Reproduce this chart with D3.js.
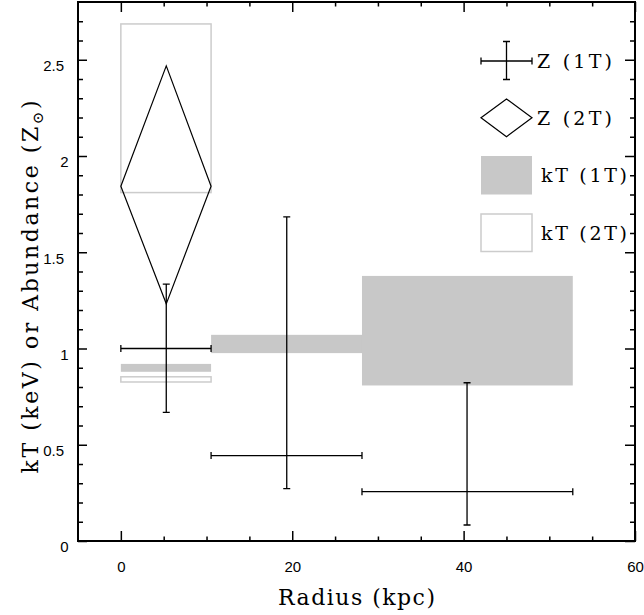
<!DOCTYPE html>
<html>
<head>
<meta charset="utf-8">
<script src="https://cdn.jsdelivr.net/npm/d3@7"></script>
<style>
  body { margin: 0; background: #fff; }
</style>
</head>
<body>
<div id="chart"></div>
<script>
// radial bins (kpc)
const binLo = [0, 10.53, 28.14];
const binHi = [10.53, 28.14, 52.74];
const binMid = [5.3, 19.36, 40.4];

// single temperature fit: abundance
const z1T = [1.0, 0.444, 0.256];
const z1TLo = [0.668, 0.272, 0.083];
const z1THi = [1.334, 1.684, 0.822];

// single temperature fit: kT range
const kT1TLo = [0.879, 0.976, 0.808];
const kT1THi = [0.920, 1.071, 1.377];

// two temperature fit (inner bin only)
const z2T = [1.843];
const z2TLo = [1.232];
const z2THi = [2.468];
const kT2TLo = [1.81, 0.826];
const kT2THi = [2.686, 0.853];

const xMajor = [0, 20, 40, 60];
const xMinor = [5, 10, 15, 25, 30, 35, 45, 50, 55];
const yMajor = [0, 0.5, 1, 1.5, 2, 2.5];
const yMinor = [0.1, 0.2, 0.3, 0.4, 0.6, 0.7, 0.8, 0.9, 1.1, 1.2, 1.3, 1.4, 1.6, 1.7, 1.8, 1.9, 2.1, 2.2, 2.3, 2.4, 2.6, 2.7];
const legendLabels = ['Z (1T)', 'Z (2T)', 'kT (1T)', 'kT (2T)'];

const width = 644, height = 615;
const margin = {top: 2, right: 9, bottom: 74, left: 78};
const grey = '#c8c8c8';
const serif = '"DejaVu Serif", serif';
const sans = '"Liberation Sans", Arial, sans-serif';

const svg = d3.select('#chart').append('svg')
  .attr('width', width)
  .attr('height', height);

const x = d3.scaleLinear().domain([-5, 60]).range([margin.left, width - margin.right]);
const y = d3.scaleLinear().domain([0, 2.8]).range([height - margin.bottom, margin.top]);

// kT (1T) filled boxes
svg.append('g').selectAll('rect')
  .data(d3.range(binLo.length))
  .join('rect')
    .attr('x', i => x(binLo[i]))
    .attr('width', i => x(binHi[i]) - x(binLo[i]))
    .attr('y', i => y(kT1THi[i]))
    .attr('height', i => y(kT1TLo[i]) - y(kT1THi[i]))
    .attr('fill', grey);

// kT (2T) open boxes
svg.append('g').selectAll('rect')
  .data(d3.range(kT2TLo.length))
  .join('rect')
    .attr('x', x(binLo[0]))
    .attr('width', x(binHi[0]) - x(binLo[0]))
    .attr('y', i => y(kT2THi[i]))
    .attr('height', i => y(kT2TLo[i]) - y(kT2THi[i]))
    .attr('fill', 'none')
    .attr('stroke', '#cccccc')
    .attr('stroke-width', 1.5);

// Z (2T) diamond
svg.append('g').selectAll('path')
  .data(d3.range(z2T.length))
  .join('path')
    .attr('d', i => d3.line()([
      [x(binLo[i]), y(z2T[i])],
      [x(binMid[i]), y(z2THi[i])],
      [x(binHi[i]), y(z2T[i])],
      [x(binMid[i]), y(z2TLo[i])]
    ]) + 'Z')
    .attr('fill', 'none')
    .attr('stroke', '#000')
    .attr('stroke-width', 1.2);

// Z (1T) error crosses
const cap = 3.5;
const cross = svg.append('g')
  .attr('stroke', '#000')
  .attr('stroke-width', 1.3)
  .attr('fill', 'none');
cross.selectAll('path')
  .data(d3.range(z1T.length))
  .join('path')
    .attr('d', i => {
      const x0 = x(binLo[i]), x1 = x(binHi[i]), xm = x(binMid[i]);
      const yc = y(z1T[i]), y0 = y(z1TLo[i]), y1 = y(z1THi[i]);
      return `M${x0},${yc}H${x1}M${x0},${yc - cap}V${yc + cap}M${x1},${yc - cap}V${yc + cap}` +
        `M${xm},${y0}V${y1}M${xm - cap},${y0}H${xm + cap}M${xm - cap},${y1}H${xm + cap}`;
    });

// axes: ticks on all four sides
const ax = svg.append('g');

ax.append('g')
  .attr('transform', `translate(0,${y(0)})`)
  .call(d3.axisBottom(x).tickValues(xMajor).tickSize(-10).tickPadding(20).tickFormat(d3.format('d')));
ax.append('g')
  .attr('transform', `translate(0,${y(0)})`)
  .call(d3.axisBottom(x).tickValues(xMinor).tickSize(-4.5).tickFormat(''));
ax.append('g')
  .attr('transform', `translate(0,${y(2.8)})`)
  .call(d3.axisTop(x).tickValues(xMajor).tickSize(-10).tickFormat(''));
ax.append('g')
  .attr('transform', `translate(0,${y(2.8)})`)
  .call(d3.axisTop(x).tickValues(xMinor).tickSize(-4.5).tickFormat(''));

ax.append('g')
  .attr('transform', `translate(${x(-5)},0)`)
  .call(d3.axisLeft(y).tickValues(yMajor).tickSize(-9).tickPadding(10).tickFormat(d => String(d)))
  .call(g => g.selectAll('text')
    .attr('dy', '0.72em')
    .attr('x', d => String(d).includes('.') ? -14 : -9.5));
ax.append('g')
  .attr('transform', `translate(${x(-5)},0)`)
  .call(d3.axisLeft(y).tickValues(yMinor).tickSize(-5).tickFormat(''));
ax.append('g')
  .attr('transform', `translate(${x(60)},0)`)
  .call(d3.axisRight(y).tickValues(yMajor).tickSize(-10).tickFormat(''));
ax.append('g')
  .attr('transform', `translate(${x(60)},0)`)
  .call(d3.axisRight(y).tickValues(yMinor).tickSize(-5).tickFormat(''));

ax.selectAll('.domain').remove();
ax.selectAll('g').attr('font-family', sans).attr('font-size', 15);
ax.selectAll('.tick line').attr('stroke', '#000').attr('stroke-width', 1.5);
ax.selectAll('.tick text').attr('fill', '#000');

// frame
svg.append('rect')
  .attr('x', x(-5))
  .attr('y', y(2.8))
  .attr('width', x(60) - x(-5))
  .attr('height', y(0) - y(2.8))
  .attr('fill', 'none')
  .attr('stroke', '#000')
  .attr('stroke-width', 2);

// axis titles
svg.append('text')
  .attr('x', (x(-5) + x(60)) / 2)
  .attr('y', 605)
  .attr('text-anchor', 'middle')
  .attr('font-family', serif)
  .attr('font-size', 22)
  .attr('textLength', 157)
  .attr('lengthAdjust', 'spacing')
  .text('Radius (kpc)');

const yt = svg.append('text')
  .attr('transform', 'translate(38,287) rotate(-90)')
  .attr('text-anchor', 'middle')
  .attr('font-family', serif)
  .attr('font-size', 22)
  .attr('textLength', 373)
  .attr('lengthAdjust', 'spacing');
yt.append('tspan').text('kT (keV) or Abundance (Z');
yt.append('tspan').attr('font-size', 15).attr('dy', 5).text('\u2299');
yt.append('tspan').attr('dy', -5).text(')');

// legend
const lg = svg.append('g');
const lx0 = 481, lx1 = 532, lxm = 506.5;
const rowY = [61, 117.7, 175, 233];

lg.append('path')
  .attr('d', `M${lx0},${rowY[0]}H${lx1}M${lx0},${rowY[0] - cap}V${rowY[0] + cap}M${lx1},${rowY[0] - cap}V${rowY[0] + cap}` +
    `M${lxm},${rowY[0] - 19.5}V${rowY[0] + 18.5}M${lxm - cap},${rowY[0] - 19.5}H${lxm + cap}M${lxm - cap},${rowY[0] + 18.5}H${lxm + cap}`)
  .attr('fill', 'none')
  .attr('stroke', '#000')
  .attr('stroke-width', 1.3);

lg.append('path')
  .attr('d', `M${lx0},${rowY[1]}L${lxm},${rowY[1] - 18.7}L${lx1},${rowY[1]}L${lxm},${rowY[1] + 19}Z`)
  .attr('fill', 'none')
  .attr('stroke', '#000')
  .attr('stroke-width', 1.2);

lg.append('rect')
  .attr('x', lx0).attr('y', rowY[2] - 19)
  .attr('width', lx1 - lx0).attr('height', 38.5)
  .attr('fill', grey);

lg.append('rect')
  .attr('x', lx0).attr('y', rowY[3] - 19)
  .attr('width', lx1 - lx0).attr('height', 37.5)
  .attr('fill', 'none')
  .attr('stroke', '#cccccc')
  .attr('stroke-width', 1.5);

lg.selectAll('text')
  .data(legendLabels)
  .join('text')
    .attr('x', (d, i) => i < 2 ? 537 : 541)
    .attr('y', (d, i) => rowY[i] + 7)
    .attr('font-family', serif)
    .attr('font-size', 19)
    .attr('textLength', (d, i) => i < 2 ? 75 : 86)
    .attr('lengthAdjust', 'spacing')
    .text(d => d);
</script>
</body>
</html>
